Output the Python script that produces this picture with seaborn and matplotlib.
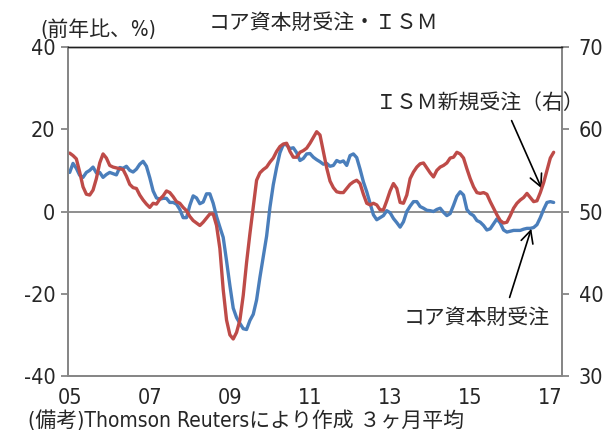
"""
Core capital goods orders vs ISM new orders
"""
import numpy as np
import pandas as pd
import matplotlib
matplotlib.use("Agg")
import matplotlib.pyplot as plt
import seaborn as sns

# monthly, Jan 2005 - Feb 2017 (3 month avg)
months = pd.date_range("2005-01-01", periods=146, freq="MS")

# core capital goods orders, y/y % (left axis)
core_orders = [
    9.5, 11.7, 10.5, 8.8, 8.3, 9.5, 10.0, 10.8, 9.4, 9.5, 8.3, 9.0,
    9.5, 9.2, 8.9, 10.7, 10.5, 11.0, 10.0, 9.6, 10.3, 11.5, 12.2, 11.0,
    8.2, 5.0, 3.3, 3.0, 3.2, 3.2, 2.2, 2.2, 1.8, 0.5, -1.5, -1.5,
    1.5, 3.8, 3.3, 1.9, 2.3, 4.3, 4.3, 2.0, -1.2, -3.8, -6.3, -12.0,
    -18.0, -23.5, -25.8, -27.2, -28.5, -28.7, -26.5, -25.0, -21.5, -16.0, -11.0, -6.0,
    1.0, 6.5, 10.7, 14.3, 16.3, 16.2, 15.3, 15.5, 14.3, 12.4, 12.9, 14.0,
    14.1, 13.2, 12.6, 12.1, 11.5, 11.7, 11.0, 11.2, 12.4, 12.0, 12.3, 11.2,
    13.6, 14.0, 13.1, 10.3, 7.2, 4.8, 2.0, -0.8, -2.0, -1.5, -1.0, 0.2,
    -0.3, -1.7, -2.7, -3.8, -2.5, 0.0, 1.3, 2.4, 2.4, 1.2, 0.8, 0.3,
    0.2, 0.0, 0.5, 0.8, -0.2, -1.0, -0.5, 1.5, 3.7, 4.8, 4.0, 0.5,
    -0.5, -1.0, -2.2, -2.6, -3.4, -4.5, -4.2, -3.0, -1.8, -2.8, -4.5, -5.0,
    -4.8, -4.6, -4.6, -4.6, -4.3, -4.1, -4.1, -3.9, -3.2, -1.5, 0.5, 2.2,
    2.4, 2.2,
]

# ISM new orders index (right axis)
ism_new_orders = [
    57.1, 56.8, 56.4, 54.8, 53.0, 52.1, 52.0, 52.6, 54.0, 55.9, 57.0, 56.5,
    55.6, 55.4, 55.3, 55.2, 55.1, 54.3, 53.3, 52.9, 52.8, 52.0, 51.4, 50.9,
    50.5, 51.0, 50.9, 51.5, 51.9, 52.5, 52.3, 51.8, 51.2, 51.0, 50.5, 50.1,
    49.4, 48.9, 48.6, 48.3, 48.7, 49.2, 49.7, 49.7, 48.3, 45.5, 40.5, 36.8,
    35.0, 34.5, 35.3, 36.8, 39.8, 43.8, 47.3, 50.5, 53.8, 54.7, 55.1, 55.4,
    56.0, 56.5, 57.3, 57.9, 58.2, 58.3, 57.3, 56.6, 56.6, 57.2, 57.4, 57.7,
    58.3, 59.0, 59.7, 59.3, 57.3, 55.3, 53.7, 52.9, 52.4, 52.3, 52.3, 52.8,
    53.3, 53.6, 53.8, 53.4, 52.1, 51.0, 50.8, 51.0, 50.8, 50.2, 50.2, 51.3,
    52.5, 53.4, 52.8, 51.1, 51.0, 52.0, 54.0, 54.8, 55.4, 55.8, 55.9, 55.3,
    54.7, 54.2, 55.0, 55.4, 55.6, 55.9, 56.5, 56.6, 57.2, 57.0, 56.5, 55.2,
    54.0, 53.0, 52.3, 52.2, 52.3, 52.1, 51.2, 50.4, 49.6, 48.9, 48.6, 48.7,
    49.5, 50.4, 51.0, 51.4, 51.7, 52.2, 51.7, 51.2, 51.3, 52.3, 53.5, 55.0,
    56.5, 57.2,
]

year_labels = ["05", "07", "09", "11", "13", "15", "17"]
left_ticks = [-40, -20, 0, 20, 40]
right_ticks = [30, 40, 50, 60, 70]

df = pd.DataFrame({"pos": np.arange(len(months)),
                   "core": core_orders, "ism": ism_new_orders})

sns.set_style("white")
plt.rcParams["font.family"] = ["DejaVu Sans", "Noto Sans CJK JP"]
plt.rcParams["font.stretch"] = "condensed"
plt.rcParams["axes.unicode_minus"] = False

blue = "#4a7ebb"
red = "#be4b48"
grey = "#868686"

fig = plt.figure(figsize=(6.06, 4.32), dpi=100)
ax = fig.add_axes([68 / 606, 1 - 376 / 432, 494 / 606, 329 / 432])
ax2 = ax.twinx()

sns.lineplot(data=df, x="pos", y="core", ax=ax, color=blue, lw=2.4)
sns.lineplot(data=df, x="pos", y="ism", ax=ax2, color=red, lw=2.4)

ax.axhline(0, color=grey, lw=1.3, zorder=0)

ax.set_xlim(-0.5, 147.5)
ax.set_ylim(-40, 40)
ax2.set_ylim(30, 70)
ax.set_xticks(np.arange(0, 145, 24))
ax.set_xticklabels(year_labels)
ax.set_yticks(left_ticks)
ax.set_yticklabels([str(t) for t in left_ticks])
ax2.set_yticks(right_ticks)
ax2.set_yticklabels([str(t) for t in right_ticks])
for a in (ax, ax2):
    a.set_xlabel("")
    a.set_ylabel("")
    for s in ["left", "right", "bottom"]:
        a.spines[s].set_color(grey)
        a.spines[s].set_linewidth(1.3)
    a.spines["top"].set_color("#202020")
    a.spines["top"].set_linewidth(1.0)

ax.tick_params(axis="x", length=0, pad=9, labelsize=15.5)
ax.tick_params(axis="y", length=5, width=1.3, color=grey, pad=4, labelsize=15.5, direction="out")
ax2.tick_params(axis="y", length=5, width=1.3, color=grey, pad=7, labelsize=15.5, direction="out")

# arrows
arr = dict(arrowstyle="->", color="black", lw=1.2, mutation_scale=22, shrinkA=0, shrinkB=0)
ax.annotate("", xy=(141.4, 5.6), xytext=(132.4, 22.1), arrowprops=arr)
ax.annotate("", xy=(138.3, -4.2), xytext=(131.8, -20.9), arrowprops=arr)

fig.text(323 / 606, 1 - 23 / 432, "コア資本財受注・ＩＳＭ", ha="center", va="center", fontsize=15)
fig.text(40 / 606, 1 - 30 / 432, "(前年比、%)", ha="left", va="center", fontsize=15)
fig.text(376 / 606, 1 - 103 / 432, "ＩＳＭ新規受注（右）", ha="left", va="center", fontsize=15)
fig.text(404 / 606, 1 - 318 / 432, "コア資本財受注", ha="left", va="center", fontsize=15)
fig.text(28 / 606, 1 - 421 / 432, "(備考)Thomson Reutersにより作成 ３ヶ月平均", ha="left", va="center", fontsize=15)

fig.savefig("out.png", dpi=100)
